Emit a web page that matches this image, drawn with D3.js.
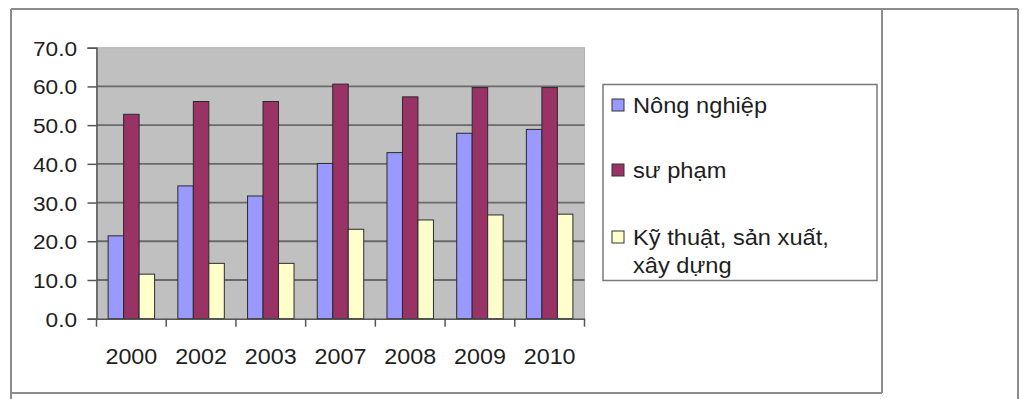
<!DOCTYPE html>
<html>
<head>
<meta charset="utf-8">
<script src="https://cdn.jsdelivr.net/npm/d3@7"></script>
<style>
  html, body { margin: 0; padding: 0; background: #fff; }
  svg { display: block; }
  text { font-family: "Liberation Sans", Arial, sans-serif; fill: #1e1e1e; }
</style>
</head>
<body>
<svg id="chart" width="1024" height="399"></svg>
<script>
// Categories (years) and series values (%)
const years = ["2000", "2002", "2003", "2007", "2008", "2009", "2010"];
const nongNghiep = [21.4, 34.3, 31.7, 40.1, 42.9, 47.9, 48.9];
const suPham = [52.8, 56.1, 56.1, 60.6, 57.3, 59.7, 59.7];
const kyThuat = [11.5, 14.3, 14.3, 23.1, 25.5, 26.8, 27.0];
const yTicks = [0, 10, 20, 30, 40, 50, 60, 70];
const seriesNames = ["Nông nghiệp", "sư phạm", "Kỹ thuật, sản xuất, xây dựng"];
const legendLines = [["Nông nghiệp"], ["sư phạm"], ["Kỹ thuật, sản xuất,", "xây dựng"]];
const seriesColors = ["#9999ff", "#993366", "#ffffcc"];

const seriesValues = [nongNghiep, suPham, kyThuat];
const svg = d3.select("#chart");

// Table / chart frame lines
const frame = svg.append("g").attr("stroke", "#8c8c8c").attr("stroke-width", 2).attr("fill", "none");
frame.append("line").attr("x1", 11).attr("y1", 9).attr("x2", 1018).attr("y2", 9);
frame.append("line").attr("x1", 11).attr("y1", 9).attr("x2", 11).attr("y2", 399);
frame.append("line").attr("x1", 882).attr("y1", 9).attr("x2", 882).attr("y2", 393);
frame.append("line").attr("x1", 11).attr("y1", 393).attr("x2", 882).attr("y2", 393);
frame.append("line").attr("x1", 1018).attr("y1", 9).attr("x2", 1018).attr("y2", 399);

// Plot area
const plot = { left: 96.5, right: 584.5, top: 47.7, bottom: 318.7 };
const x = d3.scaleBand().domain(years).range([plot.left, plot.right]).padding(0);
const y = d3.scaleLinear().domain([0, 70]).range([plot.bottom, plot.top]);

svg.append("rect")
  .attr("x", plot.left).attr("y", plot.top)
  .attr("width", plot.right - plot.left).attr("height", plot.bottom - plot.top)
  .attr("fill", "#c0c0c0").attr("stroke", "#b4b4b4").attr("stroke-width", 1);

// Horizontal gridlines
svg.append("g").selectAll("line")
  .data(yTicks.filter(v => v > 0 && v < 70))
  .join("line")
  .attr("x1", plot.left).attr("x2", plot.right)
  .attr("y1", d => y(d)).attr("y2", d => y(d))
  .attr("stroke", "#6a6a6a").attr("stroke-width", 1.8);

// Clustered bars: three bars per year with a 150% gap
const bw = x.bandwidth();
const inset = bw * 0.75 / 4.5;
const xSub = d3.scaleBand().domain(d3.range(seriesNames.length)).range([inset, bw - inset]).padding(0);

const groups = svg.append("g").selectAll("g")
  .data(years)
  .join("g")
  .attr("transform", d => `translate(${x(d)},0)`);

groups.selectAll("rect")
  .data((d, i) => seriesValues.map((vals, s) => ({ s, v: vals[i] })))
  .join("rect")
  .attr("x", d => xSub(d.s))
  .attr("width", xSub.bandwidth())
  .attr("y", d => y(d.v))
  .attr("height", d => y(0) - y(d.v))
  .attr("fill", d => seriesColors[d.s])
  .attr("stroke", "#2a2a2a")
  .attr("stroke-width", 1);

// Y axis
const yAxis = svg.append("g")
  .attr("transform", `translate(${plot.left},0)`)
  .call(d3.axisLeft(y).tickValues(yTicks).tickFormat(d3.format(".1f")).tickSize(9).tickPadding(9));
yAxis.select(".domain").attr("stroke", "#555").attr("stroke-width", 1.5);
yAxis.selectAll(".tick line").attr("stroke", "#555").attr("stroke-width", 1.5);
yAxis.selectAll("text")
  .attr("font-size", 21).attr("dy", "0.36em")
  .attr("transform", "scale(1.08,1)");

// X axis: labels centred in bands, tick marks at band boundaries
const xAxis = svg.append("g")
  .attr("transform", `translate(0,${plot.bottom})`)
  .call(d3.axisBottom(x).tickSize(0).tickPadding(30));
xAxis.select(".domain").attr("stroke", "#555").attr("stroke-width", 1.5);
xAxis.selectAll("text")
  .attr("font-size", 22)
  .attr("transform", "scale(1.06,1)");

const boundaries = years.map(d => x(d)).concat([x(years[years.length - 1]) + bw]);
xAxis.append("g").selectAll("line")
  .data(boundaries)
  .join("line")
  .attr("x1", d => d).attr("x2", d => d)
  .attr("y1", 0).attr("y2", 8)
  .attr("stroke", "#555").attr("stroke-width", 1.5);

// Legend
const legend = svg.append("g");
legend.append("rect")
  .attr("x", 603).attr("y", 84.5).attr("width", 274).attr("height", 196)
  .attr("fill", "#fff").attr("stroke", "#7a7a7a").attr("stroke-width", 1.5);

const legendBaselines = [113, 178, 245];
const items = legend.selectAll("g.item")
  .data(seriesNames)
  .join("g")
  .attr("class", "item")
  .attr("transform", (d, i) => `translate(612,${legendBaselines[i]})`);

items.append("rect")
  .attr("x", 0).attr("y", -14).attr("width", 12).attr("height", 12)
  .attr("fill", (d, i) => seriesColors[i])
  .attr("stroke", "#333").attr("stroke-width", 1);

items.append("text")
  .attr("transform", "translate(21,0) scale(1.1,1)")
  .attr("font-size", 21.5)
  .selectAll("tspan")
  .data((d, i) => legendLines[i])
  .join("tspan")
  .attr("x", 0)
  .attr("dy", (d, j) => j === 0 ? 0 : 28)
  .text(d => d);
</script>
</body>
</html>
